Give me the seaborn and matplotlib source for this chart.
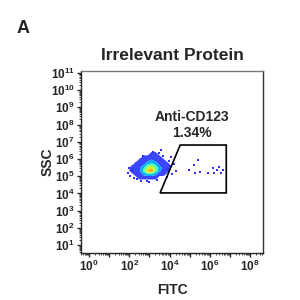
import numpy as np
import seaborn as sns
import matplotlib
matplotlib.use("Agg")
import matplotlib.pyplot as plt
from matplotlib.patches import Polygon
from matplotlib.ticker import LogLocator, NullFormatter

# density of the main population, centres of 0.2-decade log10 bins
x_centres = [1.9, 2.1, 2.3, 2.5, 2.7, 2.9, 3.1, 3.3, 3.5, 3.7, 3.9, 4.1]
y_centres = [4.7, 4.9, 5.1, 5.3, 5.5, 5.7, 5.9, 6.1, 6.3, 6.5]
# rows bottom -> top
density = [
    [0, 0, 0, 0, 0, 0, 0, 0, 0, 0, 0, 0],
    [0, 0, 0, 1, 1, 1, 1, 1, 0, 0, 0, 0],
    [0, 0, 1, 1, 3, 4, 4, 3, 1, 1, 0, 0],
    [0, 1, 1, 2, 5, 9, 11, 6, 3, 1, 1, 0],
    [0, 1, 1, 2, 4, 7, 8, 6, 3, 2, 1, 0],
    [0, 0, 1, 1, 2, 4, 5, 4, 2, 1, 1, 0],
    [0, 0, 0, 1, 1, 2, 3, 2, 2, 1, 0, 0],
    [0, 0, 0, 0, 1, 1, 1, 1, 1, 0, 0, 0],
    [0, 0, 0, 0, 0, 0, 1, 1, 0, 0, 0, 0],
    [0, 0, 0, 0, 0, 0, 0, 0, 0, 0, 0, 0],
]

# sparse events (log10 FITC, log10 SSC)
sparse_x = [3.9, 4.0, 4.1, 3.95, 4.3, 4.2, 2.05, 2.15, 3.7, 3.5, 3.2, 2.4,
            1.95, 2.0, 2.25, 2.6, 2.9, 3.0, 3.4, 3.85, 4.05, 2.7, 3.6,
            5.22, 4.98, 5.27, 5.52, 5.42, 5.92, 6.17, 6.22, 6.37, 6.47, 6.57, 6.67]
sparse_y = [5.4, 5.6, 5.1, 5.9, 5.3, 5.7, 5.0, 5.35, 6.2, 6.35, 6.4, 4.85,
            5.2, 5.5, 4.9, 4.75, 4.7, 4.65, 4.8, 4.95, 6.1, 6.2, 6.5,
            5.65, 5.36, 5.19, 5.25, 5.94, 5.19, 5.48, 5.19, 5.36, 5.54, 5.19, 5.36]

# gate (log10)
gate_x = [3.53, 4.53, 6.82, 6.82]
gate_y = [4.03, 6.81, 6.81, 4.03]

gate_name = "Anti-CD123"
gate_pct = "1.34%"
title = "Irrelevant Protein"

sns.set_style("ticks")
plt.rcParams['font.family'] = ['Liberation Sans', 'DejaVu Sans']
plt.rcParams['font.weight'] = 'bold'
plt.rcParams['mathtext.fontset'] = 'custom'
plt.rcParams['mathtext.bf'] = 'Liberation Sans:bold'
plt.rcParams['mathtext.rm'] = 'Liberation Sans:bold'
plt.rcParams['mathtext.it'] = 'Liberation Sans:bold'

fig = plt.figure(figsize=(3, 3), dpi=100)
ax = fig.add_axes([0.27, 0.157, 0.607, 0.606])

X, Y = np.meshgrid(10 ** np.array(x_centres), 10 ** np.array(y_centres))
D = np.array(density, dtype=float)
levels = [0.5, 2.5, 4.5, 6.5, 8.5, 10.5, 12]
cmap = plt.get_cmap("jet")
colors = ["#3c46ff"] + [cmap(v) for v in [0.3, 0.45, 0.6, 0.72, 0.86]]
ax.contourf(X, Y, D, levels=levels, colors=colors, antialiased=True)

sns.scatterplot(x=10 ** np.array(sparse_x), y=10 ** np.array(sparse_y), ax=ax,
                color="#3030ff", s=3, linewidth=0, marker="s")

ax.add_patch(Polygon(np.column_stack([10 ** np.array(gate_x), 10 ** np.array(gate_y)]),
                     closed=True, fill=False, edgecolor="black", linewidth=1.2))

ax.set_xscale("log")
ax.set_yscale("log")
ax.set_xlim(10 ** -0.4, 10 ** 8.65)
ax.set_ylim(10 ** 0.55, 10 ** 11.1)

ax.set_xticks([10.0 ** k for k in range(0, 9)])
ax.set_xticklabels(["$10^{%d}$" % k if k % 2 == 0 else "" for k in range(0, 9)])
ax.xaxis.set_minor_locator(LogLocator(base=10, subs=np.arange(2, 10), numticks=20))
ax.xaxis.set_minor_formatter(NullFormatter())

ax.set_yticks([10.0 ** k for k in range(1, 12)])
ax.set_yticklabels(["$10^{%d}$" % k for k in range(1, 12)])
ax.yaxis.set_minor_locator(LogLocator(base=10, subs=np.arange(2, 10), numticks=20))
ax.yaxis.set_minor_formatter(NullFormatter())

ax.tick_params(axis="both", which="major", length=3, width=1, labelsize=8.5, pad=1.5)
ax.tick_params(axis="both", which="minor", length=1.5, width=0.6)

for s in ax.spines.values():
    s.set_linewidth(1)
ax.spines["top"].set_color("#777777")
ax.spines["right"].set_color("#333333")

ax.set_xlabel("FITC", fontsize=10, fontweight="bold", labelpad=6)
ax.set_ylabel("SSC", fontsize=10, fontweight="bold", labelpad=-3)
ax.set_title(title, fontsize=12.5, fontweight="bold", pad=8)

ax.text(10 ** 5.12, 10 ** 7.97, gate_name + "\n" + gate_pct, ha="center", va="center",
        fontsize=10, fontweight="bold", linespacing=1.15)

fig.text(0.055, 0.905, "A", fontsize=13, fontweight="bold", ha="left", va="center")

fig.savefig("out.png", dpi=100)
